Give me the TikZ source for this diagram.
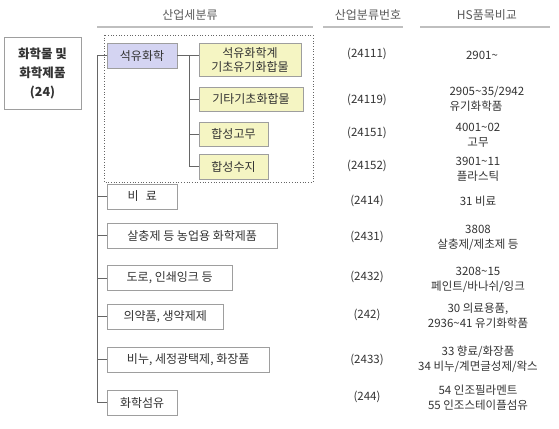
\documentclass[tikz,border=0pt]{standalone}
\usepackage{fontspec}
\setmainfont{Noto Sans CJK KR}
\definecolor{lavender}{HTML}{D4D4F2}
\definecolor{paleyel}{HTML}{F5F5C3}
\definecolor{ink}{HTML}{333333}
\begin{document}
\begin{tikzpicture}[x=1pt,y=-1pt,
    box/.style={draw=black!38,fill=white,inner sep=0pt,minimum height=25pt,text=ink,
      font=\fontsize{12}{15}\selectfont},
    link/.style={draw=black!60,line width=0.7pt},
    head/.style={text=black!65,font=\fontsize{12}{15}\selectfont},
    every node/.style={font=\fontsize{11.5}{15}\selectfont,text=ink}]
  \useasboundingbox (0,0) rectangle (559,428);
  % column headings
  \node[head] (h1) at (190,15) {산업세분류};
  \node[head] (h2) at (368,15) {산업분류번호};
  \node[head] (h3) at (487,15) {HS품목비교};
  \draw[black!25,line width=2pt] (97,27) -- (313,27) (323,27) -- (403,27) (420,27) -- (550,27);
  % the whole group
  \node[box,minimum width=77pt,minimum height=72pt,align=center,font=\fontsize{12.5}{19}\selectfont\bfseries]
    (chem) at (42.5,73) {화학물 및\\화학제품\\(24)};
  % petrochemicals and its four parts
  \draw[black!60,dotted,line width=0.7pt] (104,35) rectangle (313,182);
  \node[box,fill=lavender,minimum width=70pt] (petro) at (142,55.5) {석유화학};
  \node[box,fill=paleyel,minimum width=102pt,minimum height=33pt,align=center,
    font=\fontsize{12}{14}\selectfont] (p1) at (250,59.5) {석유화학계\\기초유기화합물};
  \node[box,fill=paleyel,minimum width=104pt,minimum height=24pt] (p2) at (251,99) {기타기초화합물};
  \node[box,fill=paleyel,minimum width=69pt,minimum height=24pt] (p3) at (233.5,134) {합성고무};
  \node[box,fill=paleyel,minimum width=69pt] (p4) at (233.5,166.5) {합성수지};
  \coordinate (sub) at (189,55.5);
  \draw[link] (petro.east) -- (petro.east -| p1.west);
  \draw[link] (sub) |- (p4.west);
  \foreach \p in {2,3,4}{
    \draw[link] (p\p.west) -- (sub |- p\p.west);
  }
  % the other branches hang from one trunk
  \coordinate (trunk) at (97,55.5);
  \draw[link] (petro.west) -- (trunk);
  \foreach \n/\yy/\w/\txt in {1/196.5/70/{비\hspace{0.6em}료},
      2/235.5/170/{살충제 등 농업용 화학제품}, 3/278/125/{도로, 인쇄잉크 등},
      4/316.5/116/{의약품, 생약제제}, 5/359.5/162/{비누, 세정광택제, 화장품},
      6/402.5/70/{화학섬유}}{
    \node[box,anchor=west,minimum width=\w pt] (c\n) at (107,\yy) {\txt};
    \draw[link] (c\n.west) -- (trunk |- c\n.west);
  }
  \draw[link] (trunk) -- (trunk |- c6.west);
  % class codes
  \foreach \i/\yy/\code in {1/54/24111, 2/100/24119, 3/133/24151, 4/166/24152,
      5/201/2414, 6/237/2431, 7/277/2432, 8/315/242, 9/360/2433, 10/397/244}{
    \node (k\i) at (367,\yy) {(\code)};
  }
  % HS comparison
  \node (hs1) at (482,55) {2901\textasciitilde};
  \node[anchor=west,align=left] (hs2) at (446,98.5) {2905\textasciitilde 35/2942\\유기화학품};
  \foreach \i/\yy/\txt in {3/135.5/{4001\textasciitilde 02\\고무},
      4/169.5/{3901\textasciitilde 11\\플라스틱}, 5/201/{31 비료},
      6/237.5/{3808\\살충제/제초제 등}, 7/279.5/{3208\textasciitilde 15\\페인트/바나쉬/잉크},
      8/315.5/{30 의료용품,\\2936\textasciitilde 41 유기화학품},
      9/359.5/{33 향료/화장품\\34 비누/계면글성제/왁스},
      10/397.5/{54 인조필라멘트\\55 인조스테이플섬유}}{
    \node[align=center] (hs\i) at (478,\yy) {\txt};
  }
\end{tikzpicture}
\end{document}
